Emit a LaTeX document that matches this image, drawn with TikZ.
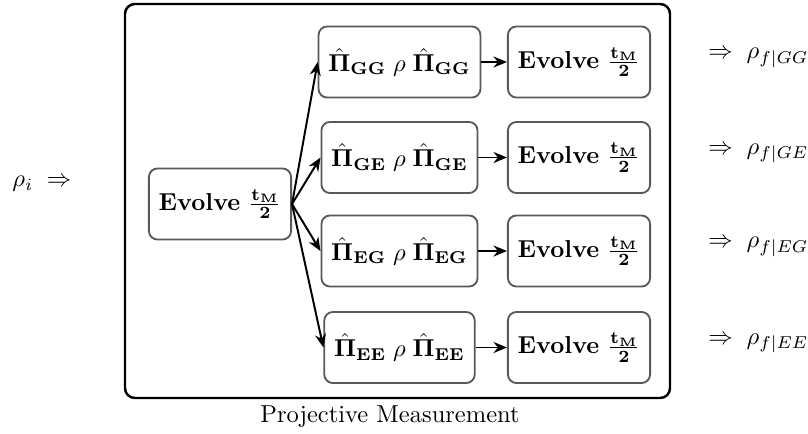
\documentclass[tikz,border=0pt]{standalone}
\usepackage{amsmath}
\usetikzlibrary{arrows.meta}
\begin{document}
\begin{tikzpicture}[x=0.408pt,y=-0.408pt,
  box/.style={draw=black!65, line width=0.75pt, rounded corners=3.5pt, minimum height=29pt, inner xsep=4pt, fill=white},
  conn/.style={-{Stealth[length=5.5pt,width=4.5pt]}, line width=0.8pt},
  frame/.style={draw=black, line width=1pt, rounded corners=4pt},
  lbl/.style={inner sep=0pt, anchor=west}]
\useasboundingbox (0,0) rectangle (808,433);
\node[frame, minimum width=545*0.408pt, minimum height=394*0.408pt, inner sep=0pt] (frm) at (397.5,201) {};
\node[anchor=north, inner sep=0pt] (cap) at (390,405) {Projective Measurement};
\node[lbl] (rhoi) at (12,184) {$\rho_i\;\Rightarrow$};
\node[box] (ev0) at (220,204) {\textbf{Evolve} $\mathbf{\frac{t_M}{2}}$};
\foreach \n/\s/\y in {a/GG/62, b/GE/157.5, c/EG/251, d/EE/347.5}{
  \node[box] (p\n) at (399.5,\y) {$\hat{\mathbf{\Pi}}_{\mathbf{\s}}\;\rho\;\hat{\mathbf{\Pi}}_{\mathbf{\s}}$};
  \node[box] (e\n) at (579,\y) {\textbf{Evolve} $\mathbf{\frac{t_M}{2}}$};
  \node[lbl] (r\n) at (708,\y-4) {$\Rightarrow\;\rho_{f|\s}$};
  \draw[conn] (ev0.east) -- (p\n.west);
  \draw[conn] (p\n.east) -- (e\n.west);
}
\end{tikzpicture}
\end{document}
